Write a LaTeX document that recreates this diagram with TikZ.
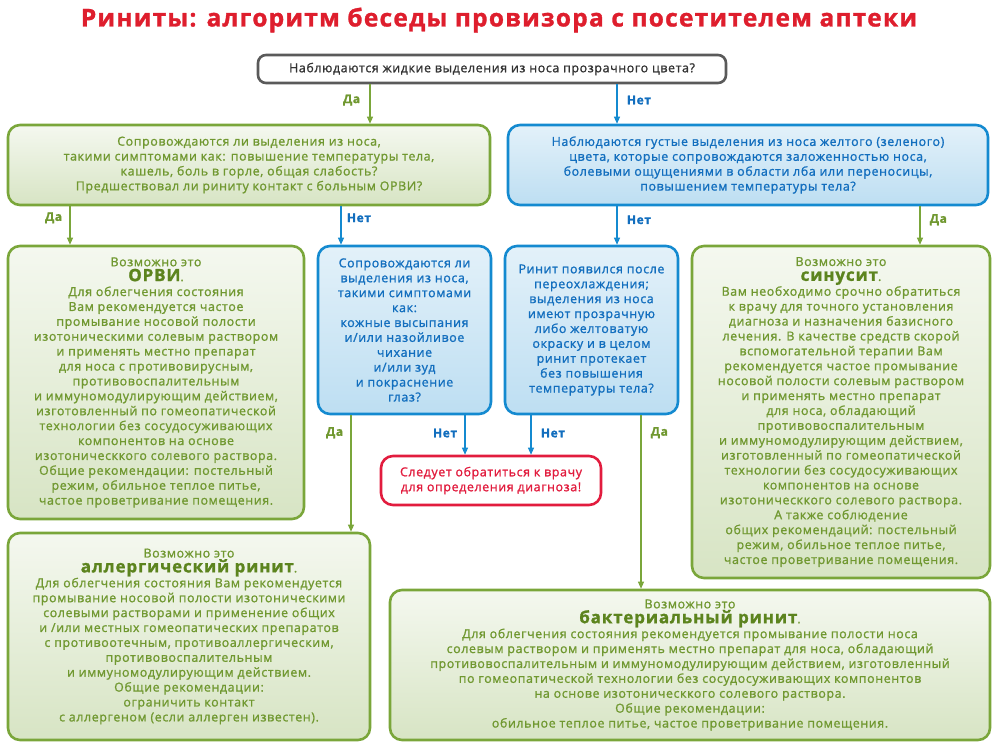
\documentclass[tikz,border=0pt]{standalone}
\usepackage{fontspec}
\setmainfont{Open Sans}[LetterSpace=5, FakeBold=1.2]
\usetikzlibrary{arrows.meta, positioning}
\definecolor{titlered}{RGB}{222,30,45}
\definecolor{leafgreen}{RGB}{122,166,58}
\definecolor{textgreen}{RGB}{112,152,48}
\definecolor{darkgreen}{RGB}{92,132,30}
\definecolor{skyblue}{RGB}{20,138,208}
\definecolor{textblue}{RGB}{18,110,190}
\definecolor{alertred}{RGB}{226,28,62}
\definecolor{framegray}{RGB}{90,90,90}

\tikzset{
  box/.style={rounded corners=12pt, line width=2.6pt, align=center, inner sep=3pt,
    font=\fontsize{12.4}{14.9}\selectfont},
  greenbox/.style={box, draw=leafgreen, top color=leafgreen!8, bottom color=leafgreen!30, text=textgreen},
  bluebox/.style={box, draw=skyblue, top color=skyblue!12, bottom color=skyblue!28, text=textblue},
  redbox/.style={box, draw=alertred, fill=white, text=alertred},
  topbox/.style={box, draw=framegray, fill=white, text=black!80, rounded corners=8pt},
  yesline/.style={draw=leafgreen, line width=1.1pt, -{Triangle[length=7pt,width=6pt]}},
  noline/.style={draw=skyblue, line width=1.1pt, -{Triangle[length=7pt,width=6pt]}},
  yeslabel/.style={text=textgreen, font=\fontsize{12}{14}\selectfont\bfseries},
  nolabel/.style={text=textblue, font=\fontsize{12}{14}\selectfont\bfseries},
}
\newcommand{\diag}[1]{{\fontsize{17}{18}\selectfont\bfseries\color{darkgreen}#1}.}

\begin{document}
\begin{tikzpicture}[x=1pt, y=-1pt]
    \useasboundingbox (0,0) rectangle (999,747);

    % Title
    \node[text=titlered, font=\fontsize{24.5}{28}\selectfont\bfseries] (title) at (499,20)
        {Риниты: алгоритм беседы провизора с посетителем аптеки};

    % Questions
    \node[topbox, minimum width=468pt, minimum height=28pt] (start) at (492,69)
        {Наблюдаются жидкие выделения из носа прозрачного цвета?};
    \node[greenbox, minimum width=482pt, minimum height=80pt] (watery) at (249,165)
        {Сопровождаются ли выделения из носа,\\ такими симптомами как: повышение температуры тела,\\
         кашель, боль в горле, общая слабость?\\ Предшествовал ли риниту контакт с больным ОРВИ?};
    \node[bluebox, minimum width=480pt, minimum height=80pt] (thick) at (748,165)
        {Наблюдаются густые выделения из носа желтого (зеленого)\\ цвета, которые сопровождаются заложенностью носа,\\
         болевыми ощущениями в области лба или переносицы,\\ повышением температуры тела?};
    \node[bluebox, minimum width=173pt, minimum height=168pt] (itch) at (404.5,330)
        {Сопровождаются ли\\ выделения из носа,\\ такими симптомами\\ как:\\ кожные высыпания\\
         и/или назойливое\\ чихание\\ и/или зуд\\ и покраснение\\ глаз?};
    \node[bluebox, minimum width=173pt, minimum height=168pt] (chill) at (591.5,330)
        {Ринит появился после\\ переохлаждения;\\ выделения из носа\\ имеют прозрачную\\ либо желтоватую\\
         окраску и в целом\\ ринит протекает\\ без повышения\\ температуры тела?};

    % Outcomes
    \node[greenbox, minimum width=296pt, minimum height=273pt] (orvi) at (156,382.5)
        {Возможно это\\ \diag{ОРВИ}\\ Для облегчения состояния\\ Вам рекомендуется частое\\
         промывание носовой полости\\ изотоническими солевым раствором\\ и применять местно препарат\\
         для носа с противовирусным,\\ противовоспалительным\\ и иммуномодулирующим действием,\\
         изготовленный по гомеопатической\\ технологии без сосудосуживающих\\ компонентов на основе\\
         изотоническкого солевого раствора.\\ Общие рекомендации: постельный\\
         режим, обильное теплое питье,\\ частое проветривание помещения.};
    \node[greenbox, minimum width=298pt, minimum height=332pt] (sinus) at (841,412)
        {Возможно это\\ \diag{синусит}\\ Вам необходимо срочно обратиться\\ к врачу для точного установления\\
         диагноза и назначения базисного\\ лечения. В качестве средств скорой\\ вспомогательной терапии Вам\\
         рекомендуется частое промывание\\ носовой полости солевым раствором\\ и применять местно препарат\\
         для носа, обладающий\\ противовоспалительным\\ и иммуномодулирующим действием,\\
         изготовленный по гомеопатической\\ технологии без сосудосуживающих\\ компонентов на основе\\
         изотоническкого солевого раствора.\\ А также соблюдение\\ общих рекомендаций: постельный\\
         режим, обильное теплое питье,\\ частое проветривание помещения.};
    \node[redbox, minimum width=220pt, minimum height=49pt] (doctor) at (491,480.5)
        {Следует обратиться к врачу\\ для определения диагноза!};
    \node[greenbox, minimum width=362pt, minimum height=207pt] (allergy) at (189,636.5)
        {Возможно это\\ \diag{аллергический ринит}\\ Для облегчения состояния Вам рекомендуется\\
         промывание носовой полости изотоническими\\ солевыми растворами и применение общих\\
         и /или местных гомеопатических препаратов\\ с противоотечным, противоаллергическим,\\
         противовоспалительным\\ и иммуномодулирующим действием.\\ Общие рекомендации:\\
         ограничить контакт\\ с аллергеном (если аллерген известен).};
    \node[greenbox, minimum width=600pt, minimum height=150pt] (bacteria) at (690,665)
        {Возможно это\\ \diag{бактериальный ринит}\\
         Для облегчения состояния рекомендуется промывание полости носа\\
         солевым раствором и применять местно препарат для носа, обладающий\\
         противовоспалительным и иммуномодулирующим действием, изготовленный\\
         по гомеопатической технологии без сосудосуживающих компонентов\\
         на основе изотоническкого солевого раствора.\\ Общие рекомендации:\\
         обильное теплое питье, частое проветривание помещения.};

    % Connector columns
    \coordinate (c1) at (370,0);
    \coordinate (c2) at (617,0);
    \coordinate (c3) at (70,0);
    \coordinate (c4) at (341,0);
    \coordinate (c5) at (920,0);
    \coordinate (c6) at (351,0);
    \coordinate (c7) at (465,0);
    \coordinate (c8) at (531,0);
    \coordinate (c9) at (641,0);

    % Connectors
    \draw[yesline] (start.south -| c1) -- node[yeslabel, pos=0.4, left=6pt] {Да} (watery.north -| c1);
    \draw[noline] (start.south -| c2) -- node[nolabel, pos=0.4, right=6pt] {Нет} (thick.north -| c2);
    \draw[yesline] (watery.south -| c3) -- node[yeslabel, pos=0.3, left=4pt] {Да} (orvi.north -| c3);
    \draw[noline] (watery.south -| c4) -- node[nolabel, pos=0.3, right=2pt] {Нет} (itch.north -| c4);
    \draw[noline] (thick.south -| c2) -- node[nolabel, pos=0.35, right=6pt] {Нет} (chill.north -| c2);
    \draw[yesline] (thick.south -| c5) -- node[yeslabel, pos=0.35, right=6pt] {Да} (sinus.north -| c5);
    \draw[yesline] (itch.south -| c6) -- node[yeslabel, pos=0.15, left=4pt] {Да} (allergy.north -| c6);
    \draw[noline] (itch.south -| c7) -- node[nolabel, pos=0.45, left=4pt] {Нет} (doctor.north -| c7);
    \draw[noline] (chill.south -| c8) -- node[nolabel, pos=0.45, right=6pt] {Нет} (doctor.north -| c8);
    \draw[yesline] (chill.south -| c9) -- node[yeslabel, pos=0.1, right=6pt] {Да} (bacteria.north -| c9);
\end{tikzpicture}
\end{document}
